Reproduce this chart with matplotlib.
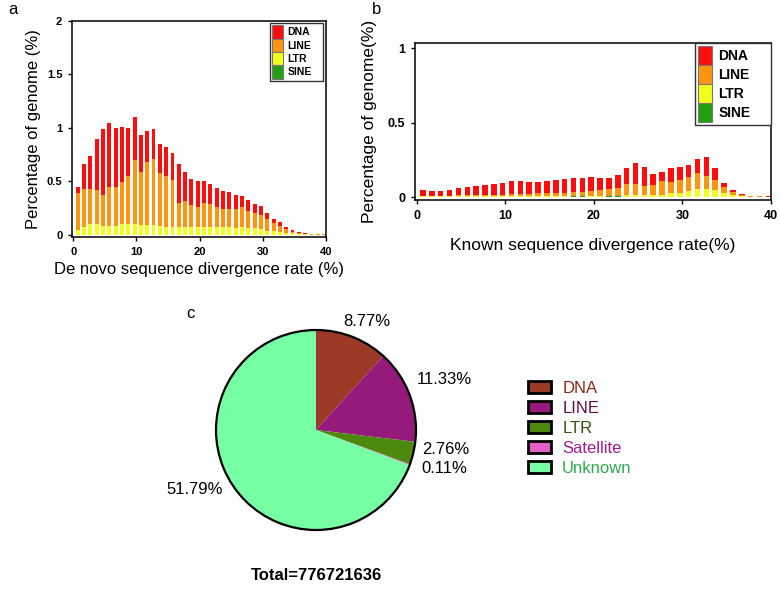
import numpy as np
import matplotlib
matplotlib.use("Agg")
import matplotlib.pyplot as plt

plt.rcParams['font.family'] = ['Liberation Sans', 'DejaVu Sans']

# divergence bins (%)
bins = np.arange(1, 41)

# panel a: de novo library, % of genome per bin
a_sine = [0.0] * 40
a_ltr = [0.05, 0.07, 0.10, 0.10, 0.08, 0.08, 0.08, 0.10, 0.10, 0.10,
         0.09, 0.09, 0.09, 0.08, 0.07, 0.07, 0.07, 0.075, 0.075, 0.075,
         0.075, 0.075, 0.078, 0.075, 0.07, 0.065, 0.075, 0.062, 0.06, 0.053,
         0.04, 0.037, 0.031, 0.022, 0.016, 0.009, 0.005, 0.003, 0.002, 0.002]
a_line = [0.34, 0.36, 0.33, 0.32, 0.29, 0.37, 0.37, 0.39, 0.45, 0.60,
          0.50, 0.59, 0.62, 0.50, 0.48, 0.44, 0.23, 0.24, 0.205, 0.19,
          0.22, 0.215, 0.184, 0.17, 0.175, 0.18, 0.19, 0.165, 0.14, 0.135,
          0.11, 0.078, 0.053, 0.034, 0.015, 0.01, 0.005, 0.003, 0.003, 0.002]
a_dna = [0.06, 0.23, 0.31, 0.48, 0.62, 0.60, 0.55, 0.52, 0.45, 0.40,
         0.34, 0.29, 0.28, 0.27, 0.27, 0.26, 0.36, 0.27, 0.245, 0.235,
         0.205, 0.19, 0.174, 0.165, 0.155, 0.13, 0.10, 0.095, 0.085, 0.08,
         0.05, 0.038, 0.04, 0.022, 0.016, 0.012, 0.005, 0.004, 0.003, 0.002]

# panel b: known library
b_sine = [0.001, 0.001, 0.001, 0.001, 0.001, 0.001, 0.001, 0.001, 0.001, 0.001,
          0.001, 0.001, 0.001, 0.001, 0.002, 0.002, 0.002, 0.004, 0.004, 0.003,
          0.003, 0.004, 0.005, 0.002, 0.003, 0.002, 0.002, 0.002, 0.002, 0.002,
          0.001, 0.001, 0.001, 0.001, 0.001, 0.0, 0.0, 0.0, 0.0, 0.0]
b_ltr = [0.003, 0.003, 0.003, 0.003, 0.004, 0.004, 0.005, 0.005, 0.005, 0.006,
         0.006, 0.007, 0.007, 0.007, 0.006, 0.006, 0.007, 0.005, 0.005, 0.006,
         0.007, 0.006, 0.005, 0.009, 0.008, 0.009, 0.009, 0.01, 0.023, 0.026,
         0.039, 0.05, 0.053, 0.046, 0.024, 0.013, 0.006, 0.003, 0.002, 0.001]
b_line = [0.004, 0.004, 0.006, 0.006, 0.007, 0.007, 0.007, 0.008, 0.009, 0.009,
          0.015, 0.014, 0.014, 0.016, 0.019, 0.019, 0.021, 0.027, 0.027, 0.029,
          0.037, 0.041, 0.05, 0.079, 0.076, 0.065, 0.067, 0.095, 0.075, 0.086,
          0.094, 0.109, 0.085, 0.065, 0.04, 0.018, 0.007, 0.003, 0.002, 0.002]
b_dna = [0.037, 0.032, 0.032, 0.04, 0.046, 0.055, 0.059, 0.064, 0.07, 0.078,
         0.083, 0.083, 0.078, 0.079, 0.078, 0.085, 0.091, 0.089, 0.094, 0.094,
         0.083, 0.079, 0.085, 0.107, 0.143, 0.124, 0.074, 0.058, 0.095, 0.086,
         0.079, 0.097, 0.127, 0.083, 0.031, 0.014, 0.009, 0.003, 0.001, 0.001]

rep_names = ['DNA', 'LINE', 'LTR', 'SINE']
rep_colors = ['#ff0d0d', '#ff9410', '#f2ff1a', '#22a012']

# panel c: pie
pie_names = ['DNA', 'LINE', 'LTR', 'Satellite', 'Unknown']
pie_pct = [8.77, 11.33, 2.76, 0.11, 51.79]
pie_colors = ['#9c3a28', '#961a7b', '#4b8a0d', '#e45ec8', '#76ffa3']
pie_text_colors = ['#8a2616', '#5c0f4c', '#2f5510', '#a01c8c', '#2ea84f']
total_len = 776721636


def stacked(ax, sine, ltr, line, dna, fs):
    x = bins - 0.3
    w = 0.62
    bottom = np.zeros(len(bins))
    for vals, col, name in zip([sine, ltr, line, dna],
                               [rep_colors[3], rep_colors[2], rep_colors[1], rep_colors[0]],
                               ['SINE', 'LTR', 'LINE', 'DNA']):
        ax.bar(x, vals, w, bottom=bottom, color=col, linewidth=0, label=name)
        bottom = bottom + np.array(vals)
    for s in ax.spines.values():
        s.set_linewidth(1.1)
    ax.tick_params(direction='out', length=3, width=1, pad=4)
    ax.set_xlim(-0.2, 40)
    ax.set_xticks([0, 10, 20, 30, 40])
    for t in ax.get_xticklabels() + ax.get_yticklabels():
        t.set_fontweight('bold')
        t.set_fontsize(fs)


def rep_legend(ax, fs, hh, box):
    handles, labels = ax.get_legend_handles_labels()
    leg = ax.legend(handles[::-1], labels[::-1], loc='upper left', mode='expand',
                    bbox_to_anchor=box, borderaxespad=0, handlelength=1.0,
                    handleheight=hh, labelspacing=0, handletextpad=0.45,
                    borderpad=0.2, fancybox=False, framealpha=1, edgecolor='#333333',
                    prop={'weight': 'bold', 'size': fs})
    leg.get_frame().set_linewidth(1.0)
    for p in leg.get_patches():
        p.set_edgecolor('#777777')
        p.set_linewidth(0.8)


fig = plt.figure(figsize=(7.8, 6.04), dpi=100)

# ---- a
ax1 = fig.add_axes([72 / 780, 1 - 237 / 604, 254 / 780, 216 / 604])
ax1.set_ylim(-0.02, 2.0)
ax1.set_yticks([0, 0.5, 1, 1.5, 2])
ax1.set_yticklabels(['0', '0.5', '1', '1.5', '2'])
stacked(ax1, a_sine, a_ltr, a_line, a_dna, 8)
ax1.set_xlabel('De novo sequence divergence rate (%)', fontsize=12, labelpad=4)
ax1.set_ylabel('Percentage of genome (%)', fontsize=12, labelpad=4)
rep_legend(ax1, 7.5, 1.59, (0.78, 0, 0.209, 0.99))

# ---- b
ax2 = fig.add_axes([415 / 780, 1 - 200 / 604, 356 / 780, 157 / 604])
ax2.set_ylim(-0.02, 1.034)
ax2.set_yticks([0, 0.5, 1])
ax2.set_yticklabels(['0', '0.5', '1'])
stacked(ax2, b_sine, b_ltr, b_line, b_dna, 9)
ax2.set_xlabel('Known sequence divergence rate(%)', fontsize=12.5, labelpad=12)
ax2.set_ylabel('Percentage of genome(%)', fontsize=12.5, labelpad=8)
rep_legend(ax2, 10, 1.73, (0.787, 0, 0.213, 1.0))

# ---- c
ax3 = fig.add_axes([214 / 780, 1 - 532 / 604, 204 / 780, 204 / 604])
wedges, _ = ax3.pie(pie_pct, colors=pie_colors, startangle=90, counterclock=False,
                    wedgeprops={'linewidth': 0})
# outer ring only, no lines between slices
ax3.pie([1], colors=['none'], wedgeprops={'edgecolor': 'black', 'linewidth': 1.6})
ax3.set_xlim(-1.02, 1.02)
ax3.set_ylim(-1.02, 1.02)
ax3.set_aspect('equal')

label_pos = [(0.51, 1.08), (1.28, 0.50), (1.30, -0.20), (1.28, -0.39), (-1.21, -0.60)]
for v, (lx, ly) in zip(pie_pct, label_pos):
    ax3.text(lx, ly, f'{v:.2f}%', fontsize=12, ha='center', va='center')
ax3.text(0, -1.45, f'Total={total_len}', fontsize=12, fontweight='bold',
         ha='center', va='center', clip_on=False)

leg3 = fig.legend(wedges, pie_names, loc='upper left',
                  bbox_to_anchor=(528 / 780, 1 - 381 / 604), frameon=False,
                  fontsize=12, handlelength=1.35, handleheight=0.75,
                  labelspacing=0.3, handletextpad=0.7, borderpad=0, borderaxespad=0)
for p in leg3.get_patches():
    p.set_edgecolor('black')
    p.set_linewidth(2)
for t, c in zip(leg3.get_texts(), pie_text_colors):
    t.set_color(c)

fig.text(8 / 780, 1 - 10 / 604, 'a', fontsize=12, va='center')
fig.text(372 / 780, 1 - 10 / 604, 'b', fontsize=12, va='center')
fig.text(186 / 780, 1 - 313 / 604, 'c', fontsize=12, va='center')

fig.savefig('out.png', dpi=100)
